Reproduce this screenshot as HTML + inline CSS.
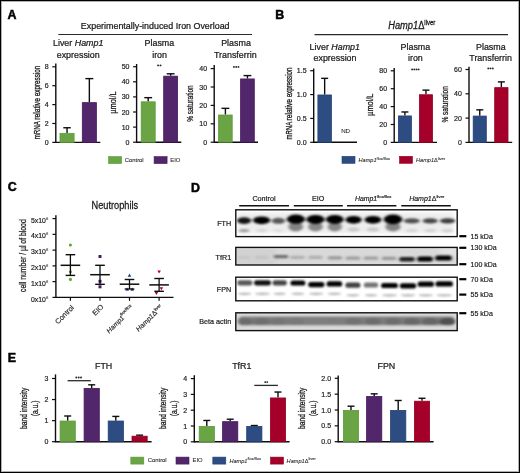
<!DOCTYPE html>
<html><head><meta charset="utf-8"><title>Figure</title>
<style>html,body{margin:0;padding:0;background:#fff;width:520px;height:473px;overflow:hidden}svg{display:block;will-change:transform}</style>
</head><body>
<svg width="520" height="473" viewBox="0 0 520 473" style="font-family:'Liberation Sans', sans-serif">
<defs><filter id="bl" x="-30%" y="-80%" width="160%" height="260%"><feGaussianBlur stdDeviation="1.5 1.1"/></filter><filter id="bl2" x="-30%" y="-80%" width="160%" height="260%"><feGaussianBlur stdDeviation="1.2 0.8"/></filter><filter id="bl3" x="-10%" y="-80%" width="120%" height="260%"><feGaussianBlur stdDeviation="2.2 1.6"/></filter><clipPath id="c1"><rect x="236.5" y="210.5" width="220" height="25.4"/></clipPath><clipPath id="c2"><rect x="236.5" y="248.1" width="220" height="16.4"/></clipPath><clipPath id="c3"><rect x="236.5" y="277.9" width="220" height="22.2"/></clipPath><clipPath id="c4"><rect x="236.5" y="313.5" width="220" height="16.9"/></clipPath></defs>
<rect x="0" y="0" width="520" height="473" fill="#fff"/>
<text x="7.6" y="18.6" font-size="12.4" text-anchor="start" font-weight="bold" fill="#000" stroke="#000" stroke-width="0.5">A</text>
<text x="275.2" y="19" font-size="12.4" text-anchor="start" font-weight="bold" fill="#000" stroke="#000" stroke-width="0.5">B</text>
<text x="7.8" y="191.3" font-size="12.4" text-anchor="start" font-weight="bold" fill="#000" stroke="#000" stroke-width="0.5">C</text>
<text x="191" y="191.7" font-size="12.4" text-anchor="start" font-weight="bold" fill="#000" stroke="#000" stroke-width="0.5">D</text>
<text x="7.8" y="362.3" font-size="12.4" text-anchor="start" font-weight="bold" fill="#000" stroke="#000" stroke-width="0.5">E</text>
<text transform="translate(155.2,29.2) scale(1,1.08)" x="0" y="0" font-size="8.9" text-anchor="middle" font-weight="normal" fill="#1a1a1a" stroke="#1a1a1a" stroke-width="0.23">Experimentally-induced Iron Overload</text>
<line x1="58.3" y1="34.5" x2="252" y2="34.5" stroke="#2a2a2a" stroke-width="1.2"/>
<text transform="translate(78.2,46.4) scale(1,1.08)" x="0" y="0" font-size="8.9" text-anchor="middle" font-weight="normal" fill="#1a1a1a" stroke="#1a1a1a" stroke-width="0.23">Liver <tspan font-style="italic">Hamp1</tspan></text>
<text transform="translate(78.2,57.7) scale(1,1.08)" x="0" y="0" font-size="8.9" text-anchor="middle" font-weight="normal" fill="#1a1a1a" stroke="#1a1a1a" stroke-width="0.23">expression</text>
<text transform="translate(159.4,46.4) scale(1,1.08)" x="0" y="0" font-size="8.9" text-anchor="middle" font-weight="normal" fill="#1a1a1a" stroke="#1a1a1a" stroke-width="0.23">Plasma</text>
<text transform="translate(159.6,57.7) scale(1,1.08)" x="0" y="0" font-size="8.9" text-anchor="middle" font-weight="normal" fill="#1a1a1a" stroke="#1a1a1a" stroke-width="0.23">iron</text>
<text transform="translate(236,46.4) scale(1,1.08)" x="0" y="0" font-size="8.9" text-anchor="middle" font-weight="normal" fill="#1a1a1a" stroke="#1a1a1a" stroke-width="0.23">Plasma</text>
<text transform="translate(235.3,57.7) scale(1,1.08)" x="0" y="0" font-size="8.9" text-anchor="middle" font-weight="normal" fill="#1a1a1a" stroke="#1a1a1a" stroke-width="0.23">Transferrin</text>
<line x1="55.8" y1="63.5" x2="55.8" y2="143.1" stroke="#0d0d0d" stroke-width="1.4"/>
<line x1="52.3" y1="142.4" x2="55.8" y2="142.4" stroke="#0d0d0d" stroke-width="1.2"/>
<text x="48.7" y="144.9" font-size="7.0" text-anchor="end" font-weight="normal" fill="#1a1a1a" stroke="#1a1a1a" stroke-width="0.18">0</text>
<line x1="52.3" y1="123.5" x2="55.8" y2="123.5" stroke="#0d0d0d" stroke-width="1.2"/>
<text x="48.7" y="126.0" font-size="7.0" text-anchor="end" font-weight="normal" fill="#1a1a1a" stroke="#1a1a1a" stroke-width="0.18">2</text>
<line x1="52.3" y1="104.60000000000001" x2="55.8" y2="104.60000000000001" stroke="#0d0d0d" stroke-width="1.2"/>
<text x="48.7" y="107.1" font-size="7.0" text-anchor="end" font-weight="normal" fill="#1a1a1a" stroke="#1a1a1a" stroke-width="0.18">4</text>
<line x1="52.3" y1="85.70000000000002" x2="55.8" y2="85.70000000000002" stroke="#0d0d0d" stroke-width="1.2"/>
<text x="48.7" y="88.2" font-size="7.0" text-anchor="end" font-weight="normal" fill="#1a1a1a" stroke="#1a1a1a" stroke-width="0.18">6</text>
<line x1="52.3" y1="66.80000000000001" x2="55.8" y2="66.80000000000001" stroke="#0d0d0d" stroke-width="1.2"/>
<text x="48.7" y="69.3" font-size="7.0" text-anchor="end" font-weight="normal" fill="#1a1a1a" stroke="#1a1a1a" stroke-width="0.18">8</text>
<line x1="55.8" y1="142.4" x2="100.3" y2="142.4" stroke="#0d0d0d" stroke-width="1.4"/>
<line x1="67.05" y1="127.75250000000001" x2="67.05" y2="132.95000000000002" stroke="#0d0d0d" stroke-width="1.4"/>
<line x1="63.3" y1="127.75250000000001" x2="70.8" y2="127.75250000000001" stroke="#0d0d0d" stroke-width="1.4"/>
<rect x="60.0" y="133.35" width="14.1" height="9.05" fill="#6aa444" stroke="#5c9c38" stroke-width="0.8"/>
<line x1="89.35" y1="78.61250000000001" x2="89.35" y2="102.23750000000001" stroke="#0d0d0d" stroke-width="1.4"/>
<line x1="85.35" y1="78.61250000000001" x2="93.35" y2="78.61250000000001" stroke="#0d0d0d" stroke-width="1.4"/>
<rect x="82.3" y="102.64" width="14.1" height="39.76" fill="#52266a" stroke="#46195e" stroke-width="0.8"/>
<text transform="translate(40.4,130.24) rotate(-90) scale(0.700,1)" x="0" y="0" font-size="8.8" text-anchor="middle" fill="#1a1a1a" stroke="#1a1a1a" stroke-width="0.32">mRNA</text>
<text transform="translate(40.4,108.91) rotate(-90) scale(0.773,1)" x="0" y="0" font-size="8.8" text-anchor="middle" fill="#1a1a1a" stroke="#1a1a1a" stroke-width="0.32">relative</text>
<text transform="translate(40.4,81.02) rotate(-90) scale(0.715,1)" x="0" y="0" font-size="8.8" text-anchor="middle" fill="#1a1a1a" stroke="#1a1a1a" stroke-width="0.32">expression</text>
<line x1="136.6" y1="64" x2="136.6" y2="142.89999999999998" stroke="#0d0d0d" stroke-width="1.4"/>
<line x1="133.1" y1="142.2" x2="136.6" y2="142.2" stroke="#0d0d0d" stroke-width="1.2"/>
<text x="129.5" y="144.7" font-size="7.0" text-anchor="end" font-weight="normal" fill="#1a1a1a" stroke="#1a1a1a" stroke-width="0.18">0</text>
<line x1="133.1" y1="127.1" x2="136.6" y2="127.1" stroke="#0d0d0d" stroke-width="1.2"/>
<text x="129.5" y="129.6" font-size="7.0" text-anchor="end" font-weight="normal" fill="#1a1a1a" stroke="#1a1a1a" stroke-width="0.18">10</text>
<line x1="133.1" y1="111.99999999999999" x2="136.6" y2="111.99999999999999" stroke="#0d0d0d" stroke-width="1.2"/>
<text x="129.5" y="114.5" font-size="7.0" text-anchor="end" font-weight="normal" fill="#1a1a1a" stroke="#1a1a1a" stroke-width="0.18">20</text>
<line x1="133.1" y1="96.89999999999999" x2="136.6" y2="96.89999999999999" stroke="#0d0d0d" stroke-width="1.2"/>
<text x="129.5" y="99.4" font-size="7.0" text-anchor="end" font-weight="normal" fill="#1a1a1a" stroke="#1a1a1a" stroke-width="0.18">30</text>
<line x1="133.1" y1="81.79999999999998" x2="136.6" y2="81.79999999999998" stroke="#0d0d0d" stroke-width="1.2"/>
<text x="129.5" y="84.3" font-size="7.0" text-anchor="end" font-weight="normal" fill="#1a1a1a" stroke="#1a1a1a" stroke-width="0.18">40</text>
<line x1="133.1" y1="66.69999999999999" x2="136.6" y2="66.69999999999999" stroke="#0d0d0d" stroke-width="1.2"/>
<text x="129.5" y="69.2" font-size="7.0" text-anchor="end" font-weight="normal" fill="#1a1a1a" stroke="#1a1a1a" stroke-width="0.18">50</text>
<line x1="136.6" y1="142.2" x2="181.3" y2="142.2" stroke="#0d0d0d" stroke-width="1.4"/>
<line x1="148.2" y1="97.65499999999999" x2="148.2" y2="101.42999999999998" stroke="#0d0d0d" stroke-width="1.4"/>
<line x1="144.29999999999998" y1="97.65499999999999" x2="152.1" y2="97.65499999999999" stroke="#0d0d0d" stroke-width="1.4"/>
<rect x="141.2" y="101.83" width="14.0" height="40.37" fill="#6aa444" stroke="#5c9c38" stroke-width="0.8"/>
<line x1="170.65" y1="73.797" x2="170.65" y2="75.75999999999999" stroke="#0d0d0d" stroke-width="1.4"/>
<line x1="166.75" y1="73.797" x2="174.55" y2="73.797" stroke="#0d0d0d" stroke-width="1.4"/>
<rect x="163.7" y="76.16" width="13.9" height="66.04" fill="#52266a" stroke="#46195e" stroke-width="0.8"/>
<text transform="translate(116.0,102.60) rotate(-90) scale(0.772,1)" x="0" y="0" font-size="9.6" text-anchor="middle" fill="#1a1a1a" stroke="#1a1a1a" stroke-width="0.28">µmol/L</text>
<circle cx="158.1" cy="65.4" r="0.95" fill="#222"/>
<circle cx="160.5" cy="65.4" r="0.95" fill="#222"/>
<line x1="214.2" y1="65" x2="214.2" y2="142.89999999999998" stroke="#0d0d0d" stroke-width="1.4"/>
<line x1="210.7" y1="142.2" x2="214.2" y2="142.2" stroke="#0d0d0d" stroke-width="1.2"/>
<text x="207.1" y="144.7" font-size="7.0" text-anchor="end" font-weight="normal" fill="#1a1a1a" stroke="#1a1a1a" stroke-width="0.18">0</text>
<line x1="210.7" y1="123.79999999999998" x2="214.2" y2="123.79999999999998" stroke="#0d0d0d" stroke-width="1.2"/>
<text x="207.1" y="126.3" font-size="7.0" text-anchor="end" font-weight="normal" fill="#1a1a1a" stroke="#1a1a1a" stroke-width="0.18">10</text>
<line x1="210.7" y1="105.39999999999998" x2="214.2" y2="105.39999999999998" stroke="#0d0d0d" stroke-width="1.2"/>
<text x="207.1" y="107.9" font-size="7.0" text-anchor="end" font-weight="normal" fill="#1a1a1a" stroke="#1a1a1a" stroke-width="0.18">20</text>
<line x1="210.7" y1="86.99999999999999" x2="214.2" y2="86.99999999999999" stroke="#0d0d0d" stroke-width="1.2"/>
<text x="207.1" y="89.5" font-size="7.0" text-anchor="end" font-weight="normal" fill="#1a1a1a" stroke="#1a1a1a" stroke-width="0.18">30</text>
<line x1="210.7" y1="68.59999999999998" x2="214.2" y2="68.59999999999998" stroke="#0d0d0d" stroke-width="1.2"/>
<text x="207.1" y="71.1" font-size="7.0" text-anchor="end" font-weight="normal" fill="#1a1a1a" stroke="#1a1a1a" stroke-width="0.18">40</text>
<line x1="214.2" y1="142.2" x2="258" y2="142.2" stroke="#0d0d0d" stroke-width="1.4"/>
<line x1="225.39999999999998" y1="108.344" x2="225.39999999999998" y2="114.6" stroke="#0d0d0d" stroke-width="1.4"/>
<line x1="221.49999999999997" y1="108.344" x2="229.29999999999998" y2="108.344" stroke="#0d0d0d" stroke-width="1.4"/>
<rect x="218.6" y="115.0" width="13.6" height="27.2" fill="#6aa444" stroke="#5c9c38" stroke-width="0.8"/>
<line x1="247.45" y1="75.59199999999998" x2="247.45" y2="78.53599999999997" stroke="#0d0d0d" stroke-width="1.4"/>
<line x1="243.54999999999998" y1="75.59199999999998" x2="251.35" y2="75.59199999999998" stroke="#0d0d0d" stroke-width="1.4"/>
<rect x="240.6" y="78.94" width="13.7" height="63.26" fill="#52266a" stroke="#46195e" stroke-width="0.8"/>
<text transform="translate(193.2,103.55) rotate(-90) scale(0.688,1)" x="0" y="0" font-size="9.6" text-anchor="middle" fill="#1a1a1a" stroke="#1a1a1a" stroke-width="0.28">% saturation</text>
<circle cx="233.9" cy="66.9" r="0.95" fill="#222"/>
<circle cx="236.2" cy="66.9" r="0.95" fill="#222"/>
<circle cx="238.4" cy="66.9" r="0.95" fill="#222"/>
<rect x="108.6" y="156.6" width="13" height="7" fill="#6aa444" stroke="#5c9c38" stroke-width="0.6"/>
<text x="124.7" y="161.7" font-size="5.9" text-anchor="start" font-weight="normal" fill="#1a1a1a" stroke="#1a1a1a" stroke-width="0.07">Control</text>
<rect x="154.1" y="156.6" width="13" height="7" fill="#52266a" stroke="#46195e" stroke-width="0.6"/>
<text x="170.3" y="161.7" font-size="5.9" text-anchor="start" font-weight="normal" fill="#1a1a1a" stroke="#1a1a1a" stroke-width="0.07">EIO</text>
<text transform="translate(411.8,28.9) scale(1,1.08)" x="0" y="0" font-size="9.3" text-anchor="middle" font-weight="normal" fill="#1a1a1a" stroke="#1a1a1a" stroke-width="0.24"><tspan font-style="italic">Hamp1</tspan>Δ<tspan font-size="6.0" dy="-3.6">liver</tspan></text>
<line x1="314.5" y1="34.6" x2="508" y2="34.6" stroke="#2a2a2a" stroke-width="1.2"/>
<text transform="translate(334.8,49.6) scale(1,1.08)" x="0" y="0" font-size="8.9" text-anchor="middle" font-weight="normal" fill="#1a1a1a" stroke="#1a1a1a" stroke-width="0.23">Liver <tspan font-style="italic">Hamp1</tspan></text>
<text transform="translate(335,60.8) scale(1,1.08)" x="0" y="0" font-size="8.9" text-anchor="middle" font-weight="normal" fill="#1a1a1a" stroke="#1a1a1a" stroke-width="0.23">expression</text>
<text transform="translate(415.4,49.6) scale(1,1.08)" x="0" y="0" font-size="8.9" text-anchor="middle" font-weight="normal" fill="#1a1a1a" stroke="#1a1a1a" stroke-width="0.23">Plasma</text>
<text transform="translate(415.4,60.8) scale(1,1.08)" x="0" y="0" font-size="8.9" text-anchor="middle" font-weight="normal" fill="#1a1a1a" stroke="#1a1a1a" stroke-width="0.23">iron</text>
<text transform="translate(490.8,49.6) scale(1,1.08)" x="0" y="0" font-size="8.9" text-anchor="middle" font-weight="normal" fill="#1a1a1a" stroke="#1a1a1a" stroke-width="0.23">Plasma</text>
<text transform="translate(490.6,60.8) scale(1,1.08)" x="0" y="0" font-size="8.9" text-anchor="middle" font-weight="normal" fill="#1a1a1a" stroke="#1a1a1a" stroke-width="0.23">Transferrin</text>
<line x1="313.7" y1="68.6" x2="313.7" y2="143.0" stroke="#0d0d0d" stroke-width="1.4"/>
<line x1="310.2" y1="142.3" x2="313.7" y2="142.3" stroke="#0d0d0d" stroke-width="1.2"/>
<text x="306.6" y="144.8" font-size="7.0" text-anchor="end" font-weight="normal" fill="#1a1a1a" stroke="#1a1a1a" stroke-width="0.18">0.0</text>
<line x1="310.2" y1="118.43500000000002" x2="313.7" y2="118.43500000000002" stroke="#0d0d0d" stroke-width="1.2"/>
<text x="306.6" y="120.94" font-size="7.0" text-anchor="end" font-weight="normal" fill="#1a1a1a" stroke="#1a1a1a" stroke-width="0.18">0.5</text>
<line x1="310.2" y1="94.57000000000002" x2="313.7" y2="94.57000000000002" stroke="#0d0d0d" stroke-width="1.2"/>
<text x="306.6" y="97.07" font-size="7.0" text-anchor="end" font-weight="normal" fill="#1a1a1a" stroke="#1a1a1a" stroke-width="0.18">1.0</text>
<line x1="310.2" y1="70.70500000000001" x2="313.7" y2="70.70500000000001" stroke="#0d0d0d" stroke-width="1.2"/>
<text x="306.6" y="73.21" font-size="7.0" text-anchor="end" font-weight="normal" fill="#1a1a1a" stroke="#1a1a1a" stroke-width="0.18">1.5</text>
<line x1="313.7" y1="142.3" x2="357" y2="142.3" stroke="#0d0d0d" stroke-width="1.4"/>
<line x1="324.65" y1="78.3418" x2="324.65" y2="94.57000000000002" stroke="#0d0d0d" stroke-width="1.4"/>
<line x1="321.15" y1="78.3418" x2="328.15" y2="78.3418" stroke="#0d0d0d" stroke-width="1.4"/>
<rect x="317.9" y="94.97" width="13.5" height="47.33" fill="#2d4d82" stroke="#223f76" stroke-width="0.8"/>
<text x="345.6" y="132.6" font-size="6.2" text-anchor="middle" font-weight="normal" fill="#1a1a1a" stroke="#1a1a1a" stroke-width="0.07">ND</text>
<text transform="translate(292.3,130.63) rotate(-90) scale(0.684,1)" x="0" y="0" font-size="8.8" text-anchor="middle" fill="#1a1a1a" stroke="#1a1a1a" stroke-width="0.32">mRNA</text>
<text transform="translate(292.3,109.77) rotate(-90) scale(0.756,1)" x="0" y="0" font-size="8.8" text-anchor="middle" fill="#1a1a1a" stroke="#1a1a1a" stroke-width="0.32">relative</text>
<text transform="translate(292.3,82.50) rotate(-90) scale(0.700,1)" x="0" y="0" font-size="8.8" text-anchor="middle" fill="#1a1a1a" stroke="#1a1a1a" stroke-width="0.32">expression</text>
<line x1="394.2" y1="68" x2="394.2" y2="143.1" stroke="#0d0d0d" stroke-width="1.4"/>
<line x1="390.7" y1="142.4" x2="394.2" y2="142.4" stroke="#0d0d0d" stroke-width="1.2"/>
<text x="387.1" y="144.9" font-size="7.0" text-anchor="end" font-weight="normal" fill="#1a1a1a" stroke="#1a1a1a" stroke-width="0.18">0</text>
<line x1="390.7" y1="124.5" x2="394.2" y2="124.5" stroke="#0d0d0d" stroke-width="1.2"/>
<text x="387.1" y="127.0" font-size="7.0" text-anchor="end" font-weight="normal" fill="#1a1a1a" stroke="#1a1a1a" stroke-width="0.18">20</text>
<line x1="390.7" y1="106.60000000000001" x2="394.2" y2="106.60000000000001" stroke="#0d0d0d" stroke-width="1.2"/>
<text x="387.1" y="109.1" font-size="7.0" text-anchor="end" font-weight="normal" fill="#1a1a1a" stroke="#1a1a1a" stroke-width="0.18">40</text>
<line x1="390.7" y1="88.7" x2="394.2" y2="88.7" stroke="#0d0d0d" stroke-width="1.2"/>
<text x="387.1" y="91.2" font-size="7.0" text-anchor="end" font-weight="normal" fill="#1a1a1a" stroke="#1a1a1a" stroke-width="0.18">60</text>
<line x1="390.7" y1="70.80000000000001" x2="394.2" y2="70.80000000000001" stroke="#0d0d0d" stroke-width="1.2"/>
<text x="387.1" y="73.3" font-size="7.0" text-anchor="end" font-weight="normal" fill="#1a1a1a" stroke="#1a1a1a" stroke-width="0.18">80</text>
<line x1="394.2" y1="142.4" x2="437" y2="142.4" stroke="#0d0d0d" stroke-width="1.4"/>
<line x1="404.9" y1="111.97" x2="404.9" y2="115.55000000000001" stroke="#0d0d0d" stroke-width="1.4"/>
<line x1="401.4" y1="111.97" x2="408.4" y2="111.97" stroke="#0d0d0d" stroke-width="1.4"/>
<rect x="398.4" y="115.95" width="13.0" height="26.45" fill="#2d4d82" stroke="#223f76" stroke-width="0.8"/>
<line x1="425.95" y1="90.132" x2="425.95" y2="94.33850000000001" stroke="#0d0d0d" stroke-width="1.4"/>
<line x1="422.45" y1="90.132" x2="429.45" y2="90.132" stroke="#0d0d0d" stroke-width="1.4"/>
<rect x="419.4" y="94.74" width="13.1" height="47.66" fill="#a5002a" stroke="#96001f" stroke-width="0.8"/>
<text transform="translate(372.9,104.70) rotate(-90) scale(0.772,1)" x="0" y="0" font-size="9.6" text-anchor="middle" fill="#1a1a1a" stroke="#1a1a1a" stroke-width="0.28">µmol/L</text>
<circle cx="412.1" cy="69.4" r="0.95" fill="#222"/>
<circle cx="414.3" cy="69.4" r="0.95" fill="#222"/>
<circle cx="416.5" cy="69.4" r="0.95" fill="#222"/>
<circle cx="418.6" cy="69.4" r="0.95" fill="#222"/>
<line x1="469" y1="66.7" x2="469" y2="143.1" stroke="#0d0d0d" stroke-width="1.4"/>
<line x1="465.5" y1="142.4" x2="469" y2="142.4" stroke="#0d0d0d" stroke-width="1.2"/>
<text x="461.9" y="144.9" font-size="7.0" text-anchor="end" font-weight="normal" fill="#1a1a1a" stroke="#1a1a1a" stroke-width="0.18">0</text>
<line x1="465.5" y1="118.10000000000001" x2="469" y2="118.10000000000001" stroke="#0d0d0d" stroke-width="1.2"/>
<text x="461.9" y="120.6" font-size="7.0" text-anchor="end" font-weight="normal" fill="#1a1a1a" stroke="#1a1a1a" stroke-width="0.18">20</text>
<line x1="465.5" y1="93.80000000000001" x2="469" y2="93.80000000000001" stroke="#0d0d0d" stroke-width="1.2"/>
<text x="461.9" y="96.3" font-size="7.0" text-anchor="end" font-weight="normal" fill="#1a1a1a" stroke="#1a1a1a" stroke-width="0.18">40</text>
<line x1="465.5" y1="69.5" x2="469" y2="69.5" stroke="#0d0d0d" stroke-width="1.2"/>
<text x="461.9" y="72.0" font-size="7.0" text-anchor="end" font-weight="normal" fill="#1a1a1a" stroke="#1a1a1a" stroke-width="0.18">60</text>
<line x1="469" y1="142.4" x2="512.2" y2="142.4" stroke="#0d0d0d" stroke-width="1.4"/>
<line x1="479.75" y1="109.838" x2="479.75" y2="115.67" stroke="#0d0d0d" stroke-width="1.4"/>
<line x1="476.25" y1="109.838" x2="483.25" y2="109.838" stroke="#0d0d0d" stroke-width="1.4"/>
<rect x="473.2" y="116.07" width="13.1" height="26.33" fill="#2d4d82" stroke="#223f76" stroke-width="0.8"/>
<line x1="501.35" y1="81.893" x2="501.35" y2="87.239" stroke="#0d0d0d" stroke-width="1.4"/>
<line x1="497.85" y1="81.893" x2="504.85" y2="81.893" stroke="#0d0d0d" stroke-width="1.4"/>
<rect x="494.7" y="87.64" width="13.3" height="54.76" fill="#a5002a" stroke="#96001f" stroke-width="0.8"/>
<text transform="translate(448.0,104.35) rotate(-90) scale(0.684,1)" x="0" y="0" font-size="9.6" text-anchor="middle" fill="#1a1a1a" stroke="#1a1a1a" stroke-width="0.28">% saturation</text>
<circle cx="488.3" cy="68.4" r="0.95" fill="#222"/>
<circle cx="490.5" cy="68.4" r="0.95" fill="#222"/>
<circle cx="492.8" cy="68.4" r="0.95" fill="#222"/>
<rect x="342" y="156.3" width="13" height="7" fill="#2d4d82" stroke="#223f76" stroke-width="0.6"/>
<text x="358.5" y="162" font-size="5.6" text-anchor="start" font-weight="normal" fill="#1a1a1a" stroke="#1a1a1a" stroke-width="0.07"><tspan font-style="italic">Hamp1</tspan><tspan font-size="4" dy="-2.4">flox/flox</tspan></text>
<rect x="399.5" y="156.3" width="13" height="7" fill="#a5002a" stroke="#96001f" stroke-width="0.6"/>
<text x="416" y="162" font-size="5.6" text-anchor="start" font-weight="normal" fill="#1a1a1a" stroke="#1a1a1a" stroke-width="0.07"><tspan font-style="italic">Hamp1</tspan>Δ<tspan font-size="4" dy="-2.4">liver</tspan></text>
<text transform="translate(114.85,209.4) scale(1,1.08)" x="0" y="0" font-size="9.25" text-anchor="middle" font-weight="normal" fill="#1a1a1a" stroke="#1a1a1a" stroke-width="0.24">Neutrophils</text>
<line x1="55.9" y1="215.3" x2="55.9" y2="298.09999999999997" stroke="#0d0d0d" stroke-width="1.4"/>
<line x1="55.9" y1="297.4" x2="173.5" y2="297.4" stroke="#0d0d0d" stroke-width="1.3"/>
<line x1="52.5" y1="297.4" x2="55.9" y2="297.4" stroke="#0d0d0d" stroke-width="1.2"/>
<text x="45.9" y="301.5" font-size="6.9" text-anchor="end" font-weight="normal" fill="#1a1a1a" stroke="#1a1a1a" stroke-width="0.18">0x10</text>
<text x="45.9" y="298.5" font-size="4.2" text-anchor="start" font-weight="normal" fill="#1a1a1a" stroke="#1a1a1a" stroke-width="0.05">6</text>
<line x1="52.5" y1="281.64" x2="55.9" y2="281.64" stroke="#0d0d0d" stroke-width="1.2"/>
<text x="45.9" y="285.74" font-size="6.9" text-anchor="end" font-weight="normal" fill="#1a1a1a" stroke="#1a1a1a" stroke-width="0.18">1x10</text>
<text x="45.9" y="282.74" font-size="4.2" text-anchor="start" font-weight="normal" fill="#1a1a1a" stroke="#1a1a1a" stroke-width="0.05">6</text>
<line x1="52.5" y1="265.88" x2="55.9" y2="265.88" stroke="#0d0d0d" stroke-width="1.2"/>
<text x="45.9" y="269.98" font-size="6.9" text-anchor="end" font-weight="normal" fill="#1a1a1a" stroke="#1a1a1a" stroke-width="0.18">2x10</text>
<text x="45.9" y="266.98" font-size="4.2" text-anchor="start" font-weight="normal" fill="#1a1a1a" stroke="#1a1a1a" stroke-width="0.05">6</text>
<line x1="52.5" y1="250.11999999999998" x2="55.9" y2="250.11999999999998" stroke="#0d0d0d" stroke-width="1.2"/>
<text x="45.9" y="254.22" font-size="6.9" text-anchor="end" font-weight="normal" fill="#1a1a1a" stroke="#1a1a1a" stroke-width="0.18">3x10</text>
<text x="45.9" y="251.22" font-size="4.2" text-anchor="start" font-weight="normal" fill="#1a1a1a" stroke="#1a1a1a" stroke-width="0.05">6</text>
<line x1="52.5" y1="234.35999999999999" x2="55.9" y2="234.35999999999999" stroke="#0d0d0d" stroke-width="1.2"/>
<text x="45.9" y="238.46" font-size="6.9" text-anchor="end" font-weight="normal" fill="#1a1a1a" stroke="#1a1a1a" stroke-width="0.18">4x10</text>
<text x="45.9" y="235.46" font-size="4.2" text-anchor="start" font-weight="normal" fill="#1a1a1a" stroke="#1a1a1a" stroke-width="0.05">6</text>
<line x1="52.5" y1="218.59999999999997" x2="55.9" y2="218.59999999999997" stroke="#0d0d0d" stroke-width="1.2"/>
<text x="45.9" y="222.7" font-size="6.9" text-anchor="end" font-weight="normal" fill="#1a1a1a" stroke="#1a1a1a" stroke-width="0.18">5x10</text>
<text x="45.9" y="219.7" font-size="4.2" text-anchor="start" font-weight="normal" fill="#1a1a1a" stroke="#1a1a1a" stroke-width="0.05">6</text>
<text transform="translate(25.6,255.65) rotate(-90) scale(0.712,1)" x="0" y="0" font-size="9.6" text-anchor="middle" fill="#1a1a1a" stroke="#1a1a1a" stroke-width="0.28">cell number / µl of blood</text>
<circle cx="70.4" cy="245" r="1.55" fill="#5aa82e"/>
<circle cx="70.4" cy="271.7" r="1.55" fill="#5aa82e"/>
<circle cx="70.4" cy="279.4" r="1.55" fill="#5aa82e"/>
<rect x="98.5" y="255.0" width="3" height="3" fill="#4b1a66"/>
<rect x="98.5" y="279.8" width="3" height="3" fill="#4b1a66"/>
<rect x="98.5" y="285.3" width="3" height="3" fill="#4b1a66"/>
<path d="M127.7,276.7L131.3,276.7L129.5,273.6Z" fill="#203f88"/>
<path d="M125.4,290.7L129.0,290.7L127.2,287.6Z" fill="#203f88"/>
<path d="M130.39999999999998,290.7L134.0,290.7L132.2,287.6Z" fill="#203f88"/>
<path d="M157.29999999999998,270.40000000000003L160.9,270.40000000000003L159.1,273.5Z" fill="#b4002a"/>
<path d="M159.6,287.20000000000005L163.20000000000002,287.20000000000005L161.4,290.3Z" fill="#b4002a"/>
<path d="M154.6,292.0L158.20000000000002,292.0L156.4,295.09999999999997Z" fill="#b4002a"/>
<line x1="70.4" y1="254.7" x2="70.4" y2="275.4" stroke="#0d0d0d" stroke-width="1.3"/>
<line x1="60.60000000000001" y1="265.3" x2="80.2" y2="265.3" stroke="#0d0d0d" stroke-width="1.5"/>
<line x1="65.60000000000001" y1="254.7" x2="75.2" y2="254.7" stroke="#0d0d0d" stroke-width="1.4"/>
<line x1="65.60000000000001" y1="275.4" x2="75.2" y2="275.4" stroke="#0d0d0d" stroke-width="1.4"/>
<line x1="70.4" y1="297.4" x2="70.4" y2="300.79999999999995" stroke="#0d0d0d" stroke-width="1.2"/>
<line x1="100" y1="265.3" x2="100" y2="284.3" stroke="#0d0d0d" stroke-width="1.3"/>
<line x1="90.2" y1="274.7" x2="109.8" y2="274.7" stroke="#0d0d0d" stroke-width="1.5"/>
<line x1="95.2" y1="265.3" x2="104.8" y2="265.3" stroke="#0d0d0d" stroke-width="1.4"/>
<line x1="95.2" y1="284.3" x2="104.8" y2="284.3" stroke="#0d0d0d" stroke-width="1.4"/>
<line x1="100" y1="297.4" x2="100" y2="300.79999999999995" stroke="#0d0d0d" stroke-width="1.2"/>
<line x1="129.5" y1="279.5" x2="129.5" y2="289" stroke="#0d0d0d" stroke-width="1.3"/>
<line x1="119.7" y1="284.2" x2="139.3" y2="284.2" stroke="#0d0d0d" stroke-width="1.5"/>
<line x1="124.7" y1="279.5" x2="134.3" y2="279.5" stroke="#0d0d0d" stroke-width="1.4"/>
<line x1="124.7" y1="289" x2="134.3" y2="289" stroke="#0d0d0d" stroke-width="1.4"/>
<line x1="129.5" y1="297.4" x2="129.5" y2="300.79999999999995" stroke="#0d0d0d" stroke-width="1.2"/>
<line x1="159.1" y1="278.5" x2="159.1" y2="291.3" stroke="#0d0d0d" stroke-width="1.3"/>
<line x1="149.29999999999998" y1="284.9" x2="168.9" y2="284.9" stroke="#0d0d0d" stroke-width="1.5"/>
<line x1="154.29999999999998" y1="278.5" x2="163.9" y2="278.5" stroke="#0d0d0d" stroke-width="1.4"/>
<line x1="154.29999999999998" y1="291.3" x2="163.9" y2="291.3" stroke="#0d0d0d" stroke-width="1.4"/>
<line x1="159.1" y1="297.4" x2="159.1" y2="300.79999999999995" stroke="#0d0d0d" stroke-width="1.2"/>
<text transform="translate(74.5,308) rotate(-45)" font-size="7.2" text-anchor="end" fill="#1a1a1a" stroke="#1a1a1a" stroke-width="0.15">Control</text>
<text transform="translate(104,307.3) rotate(-45)" font-size="7.2" text-anchor="end" fill="#1a1a1a" stroke="#1a1a1a" stroke-width="0.15">EIO</text>
<text transform="translate(134.4,308.6) rotate(-45)" font-size="6.8" text-anchor="end" fill="#1a1a1a" stroke="#1a1a1a" stroke-width="0.15"><tspan font-style="italic">Hamp1</tspan><tspan font-size="4.2" dy="-3.8" dx="-0.6">flox/flox</tspan></text>
<text transform="translate(163.2,307.6) rotate(-45)" font-size="6.8" text-anchor="end" fill="#1a1a1a" stroke="#1a1a1a" stroke-width="0.15"><tspan font-style="italic">Hamp1</tspan>Δ<tspan font-size="4.4" dy="-2.8">liver</tspan></text>
<text x="264" y="201" font-size="7.2" text-anchor="middle" font-weight="normal" fill="#1a1a1a" stroke="#1a1a1a" stroke-width="0.19">Control</text>
<text x="318.2" y="201" font-size="7.2" text-anchor="middle" font-weight="normal" fill="#1a1a1a" stroke="#1a1a1a" stroke-width="0.19">EIO</text>
<text x="373.2" y="200.6" font-size="6.9" text-anchor="middle" font-weight="normal" fill="#1a1a1a" stroke="#1a1a1a" stroke-width="0.18"><tspan font-style="italic">Hamp1</tspan><tspan font-size="4.2" dy="-3">flox/flox</tspan></text>
<text x="426.8" y="200.6" font-size="7.0" text-anchor="middle" font-weight="normal" fill="#1a1a1a" stroke="#1a1a1a" stroke-width="0.18"><tspan font-style="italic">Hamp1</tspan>Δ<tspan font-size="4.4" dy="-3">liver</tspan></text>
<line x1="239.2" y1="205.8" x2="289" y2="205.8" stroke="#111" stroke-width="1.4"/>
<line x1="293.8" y1="205.8" x2="342.8" y2="205.8" stroke="#111" stroke-width="1.4"/>
<line x1="347" y1="205.8" x2="396.4" y2="205.8" stroke="#111" stroke-width="1.4"/>
<line x1="401.3" y1="205.8" x2="450.8" y2="205.8" stroke="#111" stroke-width="1.4"/>
<rect x="235.8" y="209.8" width="221.4" height="26.8" fill="#fff"/>
<rect x="235.8" y="247.4" width="221.4" height="17.6" fill="#d9d9d9"/>
<rect x="235.8" y="277.2" width="221.4" height="23.6" fill="#fff"/>
<rect x="235.8" y="312.8" width="221.4" height="17.8" fill="#dadada"/>
<g clip-path="url(#c1)">
<g filter="url(#bl3)"><rect x="238" y="212.5" width="216" height="21" fill="#000" opacity="0.07"/></g>
<g filter="url(#bl)">
<ellipse cx="244.1" cy="230.6" rx="5.40" ry="1.70" fill="#000" opacity="0.35"/>
<ellipse cx="261.6" cy="230.6" rx="5.90" ry="1.70" fill="#000" opacity="0.1"/>
<ellipse cx="278.4" cy="230.6" rx="4.90" ry="1.70" fill="#000" opacity="0.07"/>
<ellipse cx="295.7" cy="226.8" rx="7.40" ry="4.70" fill="#000" opacity="0.45"/>
<ellipse cx="315.5" cy="226.8" rx="7.40" ry="4.70" fill="#000" opacity="0.43"/>
<ellipse cx="334.8" cy="226.8" rx="7.15" ry="4.70" fill="#000" opacity="0.43"/>
<ellipse cx="353.6" cy="229.5" rx="6.40" ry="2.20" fill="#000" opacity="0.14"/>
<ellipse cx="373.0" cy="229.5" rx="6.40" ry="2.20" fill="#000" opacity="0.15"/>
<ellipse cx="393.0" cy="226.8" rx="7.65" ry="4.70" fill="#000" opacity="0.45"/>
<ellipse cx="411.8" cy="230.8" rx="5.90" ry="1.70" fill="#000" opacity="0.1"/>
<ellipse cx="430.2" cy="230.8" rx="5.90" ry="1.70" fill="#000" opacity="0.12"/>
<ellipse cx="447.6" cy="230.8" rx="5.90" ry="1.70" fill="#000" opacity="0.12"/>
<ellipse cx="244.1" cy="220.6" rx="7.10" ry="3.40" fill="#000" opacity="0.92"/>
<ellipse cx="261.6" cy="220.3" rx="8.60" ry="3.90" fill="#000" opacity="1.00"/>
<ellipse cx="278.4" cy="220.8" rx="6.80" ry="3.00" fill="#000" opacity="0.63"/>
<ellipse cx="295.9" cy="219.2" rx="9.15" ry="4.60" fill="#000" opacity="1.00"/>
<ellipse cx="315.5" cy="219.4" rx="9.15" ry="4.50" fill="#000" opacity="1.00"/>
<ellipse cx="334.8" cy="219.4" rx="8.90" ry="4.50" fill="#000" opacity="1.00"/>
<ellipse cx="353.6" cy="219.8" rx="8.10" ry="3.90" fill="#000" opacity="1.00"/>
<ellipse cx="373.0" cy="219.8" rx="8.40" ry="3.90" fill="#000" opacity="1.00"/>
<ellipse cx="393.0" cy="219.4" rx="9.30" ry="4.80" fill="#000" opacity="1.00"/>
<ellipse cx="411.8" cy="220.9" rx="8.00" ry="2.60" fill="#000" opacity="0.67"/>
<ellipse cx="430.2" cy="220.9" rx="7.50" ry="2.60" fill="#000" opacity="0.71"/>
<ellipse cx="447.6" cy="220.9" rx="7.70" ry="2.60" fill="#000" opacity="0.75"/>
</g></g>
<g clip-path="url(#c2)">
<g filter="url(#bl3)"><rect x="236" y="248" width="40" height="17" fill="#000" opacity="0.03"/><rect x="440" y="248" width="18" height="8" fill="#fff" opacity="0.25"/></g>
<g filter="url(#bl)">
<rect x="237.30" y="255.90" width="13.60" height="3.20" rx="1.60" fill="#000" opacity="0.05"/>
<rect x="254.80" y="255.70" width="13.60" height="3.20" rx="1.60" fill="#000" opacity="0.07"/>
<rect x="273.70" y="255.00" width="14.60" height="3.20" rx="1.60" fill="#000" opacity="0.5"/>
<rect x="290.20" y="255.70" width="14.60" height="3.20" rx="1.60" fill="#000" opacity="0.2"/>
<rect x="308.20" y="255.70" width="14.60" height="3.20" rx="1.60" fill="#000" opacity="0.2"/>
<rect x="327.70" y="256.20" width="14.60" height="3.20" rx="1.60" fill="#000" opacity="0.3"/>
<rect x="345.70" y="256.60" width="14.60" height="3.20" rx="1.60" fill="#000" opacity="0.28"/>
<rect x="363.70" y="256.60" width="14.60" height="3.20" rx="1.60" fill="#000" opacity="0.28"/>
<rect x="381.70" y="256.80" width="14.60" height="3.20" rx="1.60" fill="#000" opacity="0.3"/>
<rect x="399.20" y="256.90" width="15.60" height="4.60" rx="2.30" fill="#000" opacity="0.85"/>
<rect x="417.20" y="256.40" width="15.60" height="5.20" rx="2.60" fill="#000" opacity="1.0"/>
<rect x="435.20" y="255.40" width="16.60" height="5.20" rx="2.60" fill="#000" opacity="1.0"/>
</g></g>
<g clip-path="url(#c3)">
<g filter="url(#bl2)">
<rect x="237.20" y="280.20" width="15.20" height="5.2" rx="2.6" fill="#000" opacity="0.66"/>
<rect x="254.05" y="280.20" width="16.90" height="5.2" rx="2.6" fill="#000" opacity="0.94"/>
<rect x="272.50" y="280.20" width="14.40" height="5.2" rx="2.6" fill="#000" opacity="0.73"/>
<rect x="290.40" y="280.40" width="15.00" height="5.2" rx="2.6" fill="#000" opacity="1.00"/>
<rect x="308.15" y="282.00" width="16.30" height="5.2" rx="2.6" fill="#000" opacity="1.00"/>
<rect x="326.60" y="281.30" width="15.60" height="5.2" rx="2.6" fill="#000" opacity="1.00"/>
<rect x="345.40" y="282.60" width="15.00" height="5.2" rx="2.6" fill="#000" opacity="0.75"/>
<rect x="363.80" y="282.40" width="14.40" height="5.2" rx="2.6" fill="#000" opacity="0.55"/>
<rect x="381.05" y="282.90" width="16.90" height="5.2" rx="2.6" fill="#000" opacity="1.00"/>
<rect x="399.80" y="283.20" width="16.40" height="5.2" rx="2.6" fill="#000" opacity="1.00"/>
<rect x="417.65" y="281.60" width="16.30" height="5.2" rx="2.6" fill="#000" opacity="1.00"/>
<rect x="435.45" y="281.30" width="17.50" height="5.2" rx="2.6" fill="#000" opacity="1.00"/>
<ellipse cx="244.8" cy="293.8" rx="6.60" ry="1.1" fill="#000" opacity="0.3"/>
<ellipse cx="262.5" cy="293.8" rx="7.45" ry="1.1" fill="#000" opacity="0.3"/>
<ellipse cx="279.7" cy="293.8" rx="6.20" ry="1.1" fill="#000" opacity="0.3"/>
<ellipse cx="297.9" cy="293.8" rx="6.50" ry="1.1" fill="#000" opacity="0.3"/>
<ellipse cx="316.3" cy="293.8" rx="7.15" ry="1.1" fill="#000" opacity="0.3"/>
<ellipse cx="334.4" cy="293.8" rx="6.80" ry="1.1" fill="#000" opacity="0.3"/>
<ellipse cx="352.9" cy="295.3" rx="6.50" ry="1.1" fill="#000" opacity="0.3"/>
<ellipse cx="371.0" cy="295.3" rx="6.20" ry="1.1" fill="#000" opacity="0.3"/>
<ellipse cx="389.5" cy="295.3" rx="7.45" ry="1.1" fill="#000" opacity="0.3"/>
<ellipse cx="408.0" cy="295.3" rx="7.20" ry="1.1" fill="#000" opacity="0.3"/>
<ellipse cx="425.8" cy="295.3" rx="7.15" ry="1.1" fill="#000" opacity="0.3"/>
<ellipse cx="444.2" cy="295.3" rx="7.75" ry="1.1" fill="#000" opacity="0.3"/>
</g></g>
<g clip-path="url(#c4)">
<g filter="url(#bl)">
<rect x="238.5" y="316.4" width="216" height="8.8" rx="4" fill="#000" opacity="0.42"/>
<ellipse cx="244.1" cy="321.6" rx="8.5" ry="3.6" fill="#000" opacity="0.16"/>
<ellipse cx="261.6" cy="321.6" rx="8.5" ry="3.6" fill="#000" opacity="0.12"/>
<ellipse cx="278.4" cy="321.6" rx="8.5" ry="3.6" fill="#000" opacity="0.08"/>
<ellipse cx="295.7" cy="321.6" rx="8.5" ry="3.6" fill="#000" opacity="0.05"/>
<ellipse cx="315.5" cy="321.6" rx="8.5" ry="3.6" fill="#000" opacity="0.0"/>
<ellipse cx="334.8" cy="321.6" rx="8.5" ry="3.6" fill="#000" opacity="0.02"/>
<ellipse cx="353.6" cy="321.6" rx="8.5" ry="3.6" fill="#000" opacity="0.1"/>
<ellipse cx="373.0" cy="321.6" rx="8.5" ry="3.6" fill="#000" opacity="0.14"/>
<ellipse cx="393.0" cy="321.6" rx="8.5" ry="3.6" fill="#000" opacity="0.14"/>
<ellipse cx="411.8" cy="321.6" rx="8.5" ry="3.6" fill="#000" opacity="0.18"/>
<ellipse cx="430.2" cy="321.6" rx="8.5" ry="3.6" fill="#000" opacity="0.2"/>
<ellipse cx="447.6" cy="321.6" rx="8.5" ry="3.6" fill="#000" opacity="0.38"/>
</g></g>
<rect x="235.8" y="209.8" width="221.4" height="26.80" fill="none" stroke="#111" stroke-width="1.4"/>
<text x="231.2" y="225.8" font-size="7.2" text-anchor="end" font-weight="normal" fill="#1a1a1a" stroke="#1a1a1a" stroke-width="0.19">FTH</text>
<rect x="235.8" y="247.4" width="221.4" height="17.60" fill="none" stroke="#111" stroke-width="1.4"/>
<text x="231.2" y="259.7" font-size="7.2" text-anchor="end" font-weight="normal" fill="#1a1a1a" stroke="#1a1a1a" stroke-width="0.19">TfR1</text>
<rect x="235.8" y="277.2" width="221.4" height="23.60" fill="none" stroke="#111" stroke-width="1.4"/>
<text x="231.2" y="292.1" font-size="7.2" text-anchor="end" font-weight="normal" fill="#1a1a1a" stroke="#1a1a1a" stroke-width="0.19">FPN</text>
<rect x="235.8" y="312.8" width="221.4" height="17.80" fill="none" stroke="#111" stroke-width="1.4"/>
<text x="231.2" y="324.3" font-size="7.2" text-anchor="end" font-weight="normal" fill="#1a1a1a" stroke="#1a1a1a" stroke-width="0.19">Beta actin</text>
<line x1="459.3" y1="236.2" x2="466.3" y2="236.2" stroke="#000" stroke-width="2.2"/>
<text x="470.6" y="238.7" font-size="7" text-anchor="start" font-weight="normal" fill="#1a1a1a" stroke="#1a1a1a" stroke-width="0.18">15 kDa</text>
<line x1="459.3" y1="247.8" x2="466.3" y2="247.8" stroke="#000" stroke-width="2.2"/>
<text x="470.6" y="250.3" font-size="7" text-anchor="start" font-weight="normal" fill="#1a1a1a" stroke="#1a1a1a" stroke-width="0.18">130 kDa</text>
<line x1="459.3" y1="264.2" x2="466.3" y2="264.2" stroke="#000" stroke-width="2.2"/>
<text x="470.6" y="266.7" font-size="7" text-anchor="start" font-weight="normal" fill="#1a1a1a" stroke="#1a1a1a" stroke-width="0.18">100 kDa</text>
<line x1="459.3" y1="279.2" x2="466.3" y2="279.2" stroke="#000" stroke-width="2.2"/>
<text x="470.6" y="281.7" font-size="7" text-anchor="start" font-weight="normal" fill="#1a1a1a" stroke="#1a1a1a" stroke-width="0.18">70 kDa</text>
<line x1="459.3" y1="294.6" x2="466.3" y2="294.6" stroke="#000" stroke-width="2.2"/>
<text x="470.6" y="297.1" font-size="7" text-anchor="start" font-weight="normal" fill="#1a1a1a" stroke="#1a1a1a" stroke-width="0.18">55 kDa</text>
<line x1="459.3" y1="313.2" x2="466.3" y2="313.2" stroke="#000" stroke-width="2.2"/>
<text x="470.6" y="315.7" font-size="7" text-anchor="start" font-weight="normal" fill="#1a1a1a" stroke="#1a1a1a" stroke-width="0.18">55 kDa</text>
<text transform="translate(103.6,368.8) scale(1,1.08)" x="0" y="0" font-size="8.9" text-anchor="middle" font-weight="normal" fill="#1a1a1a" stroke="#1a1a1a" stroke-width="0.23">FTH</text>
<line x1="55.5" y1="374.4" x2="55.5" y2="442.4" stroke="#0d0d0d" stroke-width="1.4"/>
<line x1="52.0" y1="441.7" x2="55.5" y2="441.7" stroke="#0d0d0d" stroke-width="1.2"/>
<text x="48.4" y="444.2" font-size="7.0" text-anchor="end" font-weight="normal" fill="#1a1a1a" stroke="#1a1a1a" stroke-width="0.18">0</text>
<line x1="52.0" y1="420.63" x2="55.5" y2="420.63" stroke="#0d0d0d" stroke-width="1.2"/>
<text x="48.4" y="423.13" font-size="7.0" text-anchor="end" font-weight="normal" fill="#1a1a1a" stroke="#1a1a1a" stroke-width="0.18">1</text>
<line x1="52.0" y1="399.56" x2="55.5" y2="399.56" stroke="#0d0d0d" stroke-width="1.2"/>
<text x="48.4" y="402.06" font-size="7.0" text-anchor="end" font-weight="normal" fill="#1a1a1a" stroke="#1a1a1a" stroke-width="0.18">2</text>
<line x1="52.0" y1="378.49" x2="55.5" y2="378.49" stroke="#0d0d0d" stroke-width="1.2"/>
<text x="48.4" y="380.99" font-size="7.0" text-anchor="end" font-weight="normal" fill="#1a1a1a" stroke="#1a1a1a" stroke-width="0.18">3</text>
<line x1="55.5" y1="441.7" x2="151.6" y2="441.7" stroke="#0d0d0d" stroke-width="1.4"/>
<line x1="67.7" y1="415.9946" x2="67.7" y2="420.63" stroke="#0d0d0d" stroke-width="1.4"/>
<line x1="64.2" y1="415.9946" x2="71.2" y2="415.9946" stroke="#0d0d0d" stroke-width="1.4"/>
<rect x="60.1" y="421.03" width="15.2" height="20.67" fill="#6aa444" stroke="#5c9c38" stroke-width="0.8"/>
<line x1="91.7" y1="384.811" x2="91.7" y2="387.9715" stroke="#0d0d0d" stroke-width="1.4"/>
<line x1="88.2" y1="384.811" x2="95.2" y2="384.811" stroke="#0d0d0d" stroke-width="1.4"/>
<rect x="84.1" y="388.37" width="15.2" height="53.33" fill="#52266a" stroke="#46195e" stroke-width="0.8"/>
<line x1="115.8" y1="416.416" x2="115.8" y2="420.63" stroke="#0d0d0d" stroke-width="1.4"/>
<line x1="112.3" y1="416.416" x2="119.3" y2="416.416" stroke="#0d0d0d" stroke-width="1.4"/>
<rect x="108.2" y="421.03" width="15.2" height="20.67" fill="#2d4d82" stroke="#223f76" stroke-width="0.8"/>
<line x1="139.6" y1="435.1683" x2="139.6" y2="435.80039999999997" stroke="#0d0d0d" stroke-width="1.4"/>
<line x1="136.1" y1="435.1683" x2="143.1" y2="435.1683" stroke="#0d0d0d" stroke-width="1.4"/>
<rect x="132.0" y="436.2" width="15.2" height="5.5" fill="#a5002a" stroke="#96001f" stroke-width="0.8"/>
<text transform="translate(27.2,408.35) rotate(-90) scale(0.697,1)" x="0" y="0" font-size="9.6" text-anchor="middle" fill="#1a1a1a" stroke="#1a1a1a" stroke-width="0.28">band intensity</text>
<text transform="translate(38.0,408.35) rotate(-90) scale(0.692,1)" x="0" y="0" font-size="9.6" text-anchor="middle" fill="#1a1a1a" stroke="#1a1a1a" stroke-width="0.28">(a.u.)</text>
<line x1="67.6" y1="380.7" x2="90.8" y2="380.7" stroke="#2a2a2a" stroke-width="1.3"/>
<circle cx="76.3" cy="377.5" r="0.95" fill="#222"/>
<circle cx="78.7" cy="377.5" r="0.95" fill="#222"/>
<circle cx="81.0" cy="377.5" r="0.95" fill="#222"/>
<text transform="translate(241.8,368.8) scale(1,1.08)" x="0" y="0" font-size="8.9" text-anchor="middle" font-weight="normal" fill="#1a1a1a" stroke="#1a1a1a" stroke-width="0.23">TfR1</text>
<line x1="194.3" y1="375.2" x2="194.3" y2="442.5" stroke="#0d0d0d" stroke-width="1.4"/>
<line x1="190.8" y1="441.8" x2="194.3" y2="441.8" stroke="#0d0d0d" stroke-width="1.2"/>
<text x="187.2" y="444.3" font-size="7.0" text-anchor="end" font-weight="normal" fill="#1a1a1a" stroke="#1a1a1a" stroke-width="0.18">0</text>
<line x1="190.8" y1="426.0" x2="194.3" y2="426.0" stroke="#0d0d0d" stroke-width="1.2"/>
<text x="187.2" y="428.5" font-size="7.0" text-anchor="end" font-weight="normal" fill="#1a1a1a" stroke="#1a1a1a" stroke-width="0.18">1</text>
<line x1="190.8" y1="410.2" x2="194.3" y2="410.2" stroke="#0d0d0d" stroke-width="1.2"/>
<text x="187.2" y="412.7" font-size="7.0" text-anchor="end" font-weight="normal" fill="#1a1a1a" stroke="#1a1a1a" stroke-width="0.18">2</text>
<line x1="190.8" y1="394.4" x2="194.3" y2="394.4" stroke="#0d0d0d" stroke-width="1.2"/>
<text x="187.2" y="396.9" font-size="7.0" text-anchor="end" font-weight="normal" fill="#1a1a1a" stroke="#1a1a1a" stroke-width="0.18">3</text>
<line x1="190.8" y1="378.6" x2="194.3" y2="378.6" stroke="#0d0d0d" stroke-width="1.2"/>
<text x="187.2" y="381.1" font-size="7.0" text-anchor="end" font-weight="normal" fill="#1a1a1a" stroke="#1a1a1a" stroke-width="0.18">4</text>
<line x1="194.3" y1="441.8" x2="289.6" y2="441.8" stroke="#0d0d0d" stroke-width="1.4"/>
<line x1="206.8" y1="420.47" x2="206.8" y2="426.0" stroke="#0d0d0d" stroke-width="1.4"/>
<line x1="203.3" y1="420.47" x2="210.3" y2="420.47" stroke="#0d0d0d" stroke-width="1.4"/>
<rect x="199.2" y="426.4" width="15.2" height="15.4" fill="#6aa444" stroke="#5c9c38" stroke-width="0.8"/>
<line x1="230.2" y1="419.206" x2="230.2" y2="421.26" stroke="#0d0d0d" stroke-width="1.4"/>
<line x1="226.7" y1="419.206" x2="233.7" y2="419.206" stroke="#0d0d0d" stroke-width="1.4"/>
<rect x="222.6" y="421.66" width="15.2" height="20.14" fill="#52266a" stroke="#46195e" stroke-width="0.8"/>
<line x1="254.3" y1="425.526" x2="254.3" y2="426.0" stroke="#0d0d0d" stroke-width="1.4"/>
<line x1="250.8" y1="425.526" x2="257.8" y2="425.526" stroke="#0d0d0d" stroke-width="1.4"/>
<rect x="246.7" y="426.4" width="15.2" height="15.4" fill="#2d4d82" stroke="#223f76" stroke-width="0.8"/>
<line x1="278.0" y1="392.03000000000003" x2="278.0" y2="397.56" stroke="#0d0d0d" stroke-width="1.4"/>
<line x1="274.5" y1="392.03000000000003" x2="281.5" y2="392.03000000000003" stroke="#0d0d0d" stroke-width="1.4"/>
<rect x="270.4" y="397.96" width="15.2" height="43.84" fill="#a5002a" stroke="#96001f" stroke-width="0.8"/>
<text transform="translate(166.2,408.35) rotate(-90) scale(0.697,1)" x="0" y="0" font-size="9.6" text-anchor="middle" fill="#1a1a1a" stroke="#1a1a1a" stroke-width="0.28">band intensity</text>
<text transform="translate(177.0,408.35) rotate(-90) scale(0.692,1)" x="0" y="0" font-size="9.6" text-anchor="middle" fill="#1a1a1a" stroke="#1a1a1a" stroke-width="0.28">(a.u.)</text>
<line x1="254.3" y1="385.4" x2="277.9" y2="385.4" stroke="#2a2a2a" stroke-width="1.3"/>
<circle cx="265.2" cy="382.1" r="0.95" fill="#222"/>
<circle cx="267.2" cy="382.1" r="0.95" fill="#222"/>
<text transform="translate(386.4,368.8) scale(1,1.08)" x="0" y="0" font-size="8.9" text-anchor="middle" font-weight="normal" fill="#1a1a1a" stroke="#1a1a1a" stroke-width="0.23">FPN</text>
<line x1="338.2" y1="375.4" x2="338.2" y2="442.4" stroke="#0d0d0d" stroke-width="1.4"/>
<line x1="334.7" y1="441.7" x2="338.2" y2="441.7" stroke="#0d0d0d" stroke-width="1.2"/>
<text x="331.1" y="444.2" font-size="7.0" text-anchor="end" font-weight="normal" fill="#1a1a1a" stroke="#1a1a1a" stroke-width="0.18">0.0</text>
<line x1="334.7" y1="425.84999999999997" x2="338.2" y2="425.84999999999997" stroke="#0d0d0d" stroke-width="1.2"/>
<text x="331.1" y="428.35" font-size="7.0" text-anchor="end" font-weight="normal" fill="#1a1a1a" stroke="#1a1a1a" stroke-width="0.18">0.5</text>
<line x1="334.7" y1="410.0" x2="338.2" y2="410.0" stroke="#0d0d0d" stroke-width="1.2"/>
<text x="331.1" y="412.5" font-size="7.0" text-anchor="end" font-weight="normal" fill="#1a1a1a" stroke="#1a1a1a" stroke-width="0.18">1.0</text>
<line x1="334.7" y1="394.15" x2="338.2" y2="394.15" stroke="#0d0d0d" stroke-width="1.2"/>
<text x="331.1" y="396.65" font-size="7.0" text-anchor="end" font-weight="normal" fill="#1a1a1a" stroke="#1a1a1a" stroke-width="0.18">1.5</text>
<line x1="334.7" y1="378.3" x2="338.2" y2="378.3" stroke="#0d0d0d" stroke-width="1.2"/>
<text x="331.1" y="380.8" font-size="7.0" text-anchor="end" font-weight="normal" fill="#1a1a1a" stroke="#1a1a1a" stroke-width="0.18">2.0</text>
<line x1="338.2" y1="441.7" x2="433.6" y2="441.7" stroke="#0d0d0d" stroke-width="1.4"/>
<line x1="351.0" y1="406.19599999999997" x2="351.0" y2="410.0" stroke="#0d0d0d" stroke-width="1.4"/>
<line x1="347.5" y1="406.19599999999997" x2="354.5" y2="406.19599999999997" stroke="#0d0d0d" stroke-width="1.4"/>
<rect x="343.4" y="410.4" width="15.2" height="31.3" fill="#6aa444" stroke="#5c9c38" stroke-width="0.8"/>
<line x1="374.2" y1="393.83299999999997" x2="374.2" y2="396.052" stroke="#0d0d0d" stroke-width="1.4"/>
<line x1="370.7" y1="393.83299999999997" x2="377.7" y2="393.83299999999997" stroke="#0d0d0d" stroke-width="1.4"/>
<rect x="366.6" y="396.45" width="15.2" height="45.25" fill="#52266a" stroke="#46195e" stroke-width="0.8"/>
<line x1="398.2" y1="400.49" x2="398.2" y2="410.0" stroke="#0d0d0d" stroke-width="1.4"/>
<line x1="394.7" y1="400.49" x2="401.7" y2="400.49" stroke="#0d0d0d" stroke-width="1.4"/>
<rect x="390.6" y="410.4" width="15.2" height="31.3" fill="#2d4d82" stroke="#223f76" stroke-width="0.8"/>
<line x1="422.0" y1="398.27099999999996" x2="422.0" y2="400.807" stroke="#0d0d0d" stroke-width="1.4"/>
<line x1="418.5" y1="398.27099999999996" x2="425.5" y2="398.27099999999996" stroke="#0d0d0d" stroke-width="1.4"/>
<rect x="414.4" y="401.21" width="15.2" height="40.49" fill="#a5002a" stroke="#96001f" stroke-width="0.8"/>
<text transform="translate(304.8,408.35) rotate(-90) scale(0.697,1)" x="0" y="0" font-size="9.6" text-anchor="middle" fill="#1a1a1a" stroke="#1a1a1a" stroke-width="0.28">band intensity</text>
<text transform="translate(315.6,408.35) rotate(-90) scale(0.692,1)" x="0" y="0" font-size="9.6" text-anchor="middle" fill="#1a1a1a" stroke="#1a1a1a" stroke-width="0.28">(a.u.)</text>
<rect x="130.8" y="457.1" width="13" height="7" fill="#6aa444" stroke="#5c9c38" stroke-width="0.6"/>
<text x="147.7" y="462.3" font-size="5.9" text-anchor="start" font-weight="normal" fill="#1a1a1a" stroke="#1a1a1a" stroke-width="0.07">Control</text>
<rect x="176" y="457.1" width="13" height="7" fill="#52266a" stroke="#46195e" stroke-width="0.6"/>
<text x="192.5" y="462.3" font-size="5.9" text-anchor="start" font-weight="normal" fill="#1a1a1a" stroke="#1a1a1a" stroke-width="0.07">EIO</text>
<rect x="212.8" y="457.1" width="13" height="7" fill="#2d4d82" stroke="#223f76" stroke-width="0.6"/>
<text x="229.4" y="462.6" font-size="5.6" text-anchor="start" font-weight="normal" fill="#1a1a1a" stroke="#1a1a1a" stroke-width="0.07"><tspan font-style="italic">Hamp1</tspan><tspan font-size="4" dy="-2.4">flox/flox</tspan></text>
<rect x="270.5" y="457.1" width="13" height="7" fill="#a5002a" stroke="#96001f" stroke-width="0.6"/>
<text x="286.6" y="462.6" font-size="5.6" text-anchor="start" font-weight="normal" fill="#1a1a1a" stroke="#1a1a1a" stroke-width="0.07"><tspan font-style="italic">Hamp1</tspan>Δ<tspan font-size="4" dy="-2.4">liver</tspan></text>
<rect x="1.5" y="1.5" width="517" height="470" fill="none" stroke="#b0b0b0" stroke-width="1"/>
<rect x="0.5" y="0.5" width="519" height="472" fill="none" stroke="#000" stroke-width="1"/>
</svg>
</body></html>
